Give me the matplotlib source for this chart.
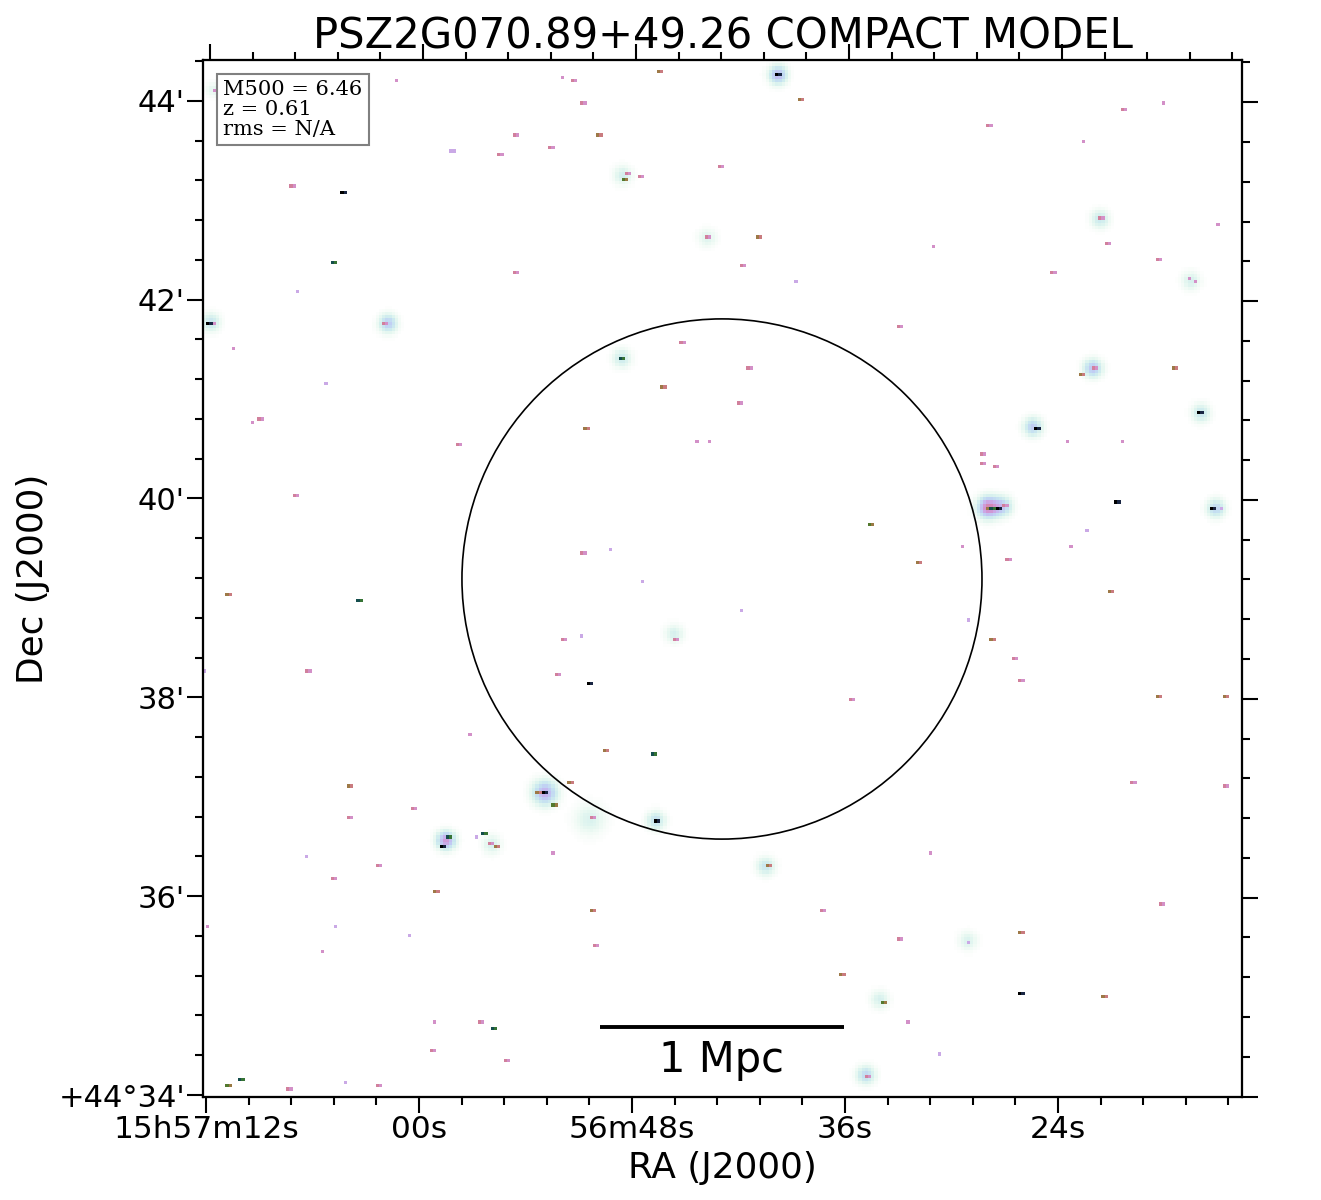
import matplotlib
matplotlib.use("Agg")
import matplotlib.pyplot as plt
from matplotlib.patches import Ellipse
import numpy as np

# Source levels (fraction of the colour stretch)
LI, PI, RO, BR, OL, DK, BK = 0.27, 0.33, 0.39, 0.50, 0.60, 0.76, 1.00

# Compact pixels: RA is seconds after 15h56m, Dec is arcmin after +44 deg
src_ra = [61.30, 71.55, 51.94, 51.32, 50.76, 46.42, 38.59, 39.83, 27.89, 17.97, 20.34, 22.59, 58.14,
          57.97, 54.65, 52.68, 49.92, 55.55, 43.10, 67.15, 64.34, 48.56, 48.23, 47.55, 15.04, 21.63,
          43.83, 40.96, 41.75, 30.99, 21.35, 18.48, 24.28, 16.56, 16.23, 54.54, 64.90, 66.82, 38.70,
          33.01, 71.83, 71.55, 70.48, 61.97, 45.18, 48.68, 65.30, 41.41, 46.37, 22.76, 21.97, 17.52,
          16.00, 25.18, 41.97, 50.65, 69.30, 69.01, 44.28, 43.61, 57.92, 23.44, 20.39, 28.23, 28.34,
          27.61, 67.04, 28.00, 27.83, 27.44, 27.04, 20.73, 15.27, 14.76, 34.54, 22.37, 23.32, 29.41,
          50.76, 49.24, 31.94, 26.93, 47.44, 70.82, 63.49, 21.18, 41.80, 28.96, 45.63, 50.87, 51.89,
          27.77, 66.37, 26.54, 52.28, 50.54, 26.20, 18.48, 14.65, 72.11, 35.77, 57.07, 49.52, 46.87,
          51.55, 63.89, 19.77, 14.54, 53.41, 52.90, 52.39, 60.34, 63.94, 50.37, 46.65, 58.48, 58.70,
          56.39, 56.68, 56.11, 55.72, 52.51, 66.37, 31.21, 64.96, 62.42, 40.45, 59.04, 18.25, 50.25,
          37.30, 71.94, 64.68, 26.20, 29.01, 33.07, 60.51, 65.35, 50.03, 36.17, 26.20, 21.52, 33.97,
          59.04, 56.51, 55.89, 32.51, 59.32, 55.15, 30.65, 34.82, 70.82, 70.14, 67.32, 64.17, 62.42]
src_dec = [44.20, 44.11, 44.24, 44.19, 43.99, 44.29, 44.01, 44.25, 43.74, 43.99, 43.91, 43.59, 43.51,
           43.50, 43.67, 43.52, 43.64, 43.45, 43.34, 43.13, 43.07, 43.21, 43.27, 43.24, 42.76, 42.82,
           42.62, 42.64, 42.34, 42.54, 42.57, 42.42, 42.29, 42.21, 42.17, 42.29, 42.36, 42.09, 42.18,
           41.72, 41.77, 41.75, 41.51, 41.76, 41.58, 41.40, 41.16, 41.31, 41.11, 41.24, 41.30, 41.31,
           40.85, 40.71, 40.95, 40.71, 40.76, 40.81, 40.59, 40.56, 40.53, 40.59, 40.59, 40.46, 40.34,
           40.32, 40.03, 39.89, 39.89, 39.89, 39.94, 39.98, 39.90, 39.89, 39.73, 39.68, 39.53, 39.51,
           39.46, 39.48, 39.37, 39.40, 39.16, 39.04, 38.98, 39.06, 38.86, 38.78, 38.57, 38.62, 38.59,
           38.58, 38.27, 38.38, 38.23, 38.12, 38.18, 38.00, 38.02, 38.28, 37.98, 37.63, 37.45, 37.43,
           37.15, 37.10, 37.15, 37.12, 37.03, 37.05, 36.93, 36.88, 36.80, 36.78, 36.76, 36.61, 36.50,
           36.63, 36.61, 36.54, 36.51, 36.45, 36.41, 36.45, 36.18, 36.30, 36.30, 36.05, 35.92, 35.85,
           35.87, 35.71, 35.69, 35.64, 35.54, 35.56, 35.60, 35.44, 35.52, 35.23, 35.01, 34.99, 34.94,
           34.72, 34.74, 34.67, 34.72, 34.43, 34.34, 34.40, 34.20, 34.10, 34.15, 34.07, 34.12, 34.10]
src_level = [PI, PI, PI, RO, RO, BR, BR, BK, RO, PI, RO, PI, LI,
             LI, RO, RO, BR, RO, RO, RO, BK, OL, RO, RO, PI, RO,
             RO, BR, RO, PI, RO, RO, RO, PI, PI, RO, DK, LI, LI,
             RO, BK, PI, PI, RO, RO, DK, LI, RO, BR, BR, RO, BR,
             BK, BK, RO, BR, PI, RO, PI, PI, RO, PI, PI, RO, RO,
             RO, RO, BR, DK, BK, RO, BK, BK, LI, OL, LI, PI, PI,
             RO, LI, BR, RO, LI, BR, DK, BR, LI, LI, RO, LI, RO,
             BR, RO, RO, RO, BK, RO, BR, BR, LI, RO, PI, BR, DK,
             BR, BR, RO, RO, BR, BK, OL, RO, RO, RO, BK, DK, BK,
             DK, LI, RO, BR, PI, LI, PI, RO, RO, BR, BR, RO, BR,
             RO, PI, LI, BR, LI, RO, LI, PI, RO, BR, BK, BR, OL,
             PI, RO, DK, PI, RO, RO, LI, RO, OL, DK, RO, LI, RO]

# Extended halos around the brighter sources
blob_ra = [39.77, 48.51, 43.77, 21.63, 16.50, 71.72, 61.75, 48.56, 22.03, 15.94, 25.41, 27.94, 27.15,
           15.10, 45.63, 52.90, 50.37, 46.65, 58.48, 55.89, 40.45, 29.07, 34.03, 34.82, 71.55]
blob_dec = [44.26, 43.25, 42.62, 42.81, 42.19, 41.77, 41.76, 41.41, 41.31, 40.86, 40.72, 39.91, 39.92,
            39.90, 38.64, 37.04, 36.77, 36.76, 36.56, 36.52, 36.30, 35.55, 34.96, 34.20, 44.11]
blob_amp = [0.25, 0.10, 0.07, 0.12, 0.09, 0.13, 0.20, 0.12, 0.22, 0.13, 0.20, 0.36, 0.20,
            0.18, 0.09, 0.27, 0.08, 0.15, 0.31, 0.09, 0.13, 0.08, 0.09, 0.17, 0.06]
blob_sigma = [0.06, 0.06, 0.06, 0.06, 0.06, 0.06, 0.06, 0.06, 0.06, 0.06, 0.06, 0.07, 0.065,
              0.06, 0.06, 0.08, 0.10, 0.06, 0.06, 0.06, 0.06, 0.06, 0.06, 0.06, 0.05]

ra_ticks = [72, 60, 48, 36, 24]
ra_labels = ["15h57m12s", "00s", "56m48s", "36s", "24s"]
dec_ticks = [34, 36, 38, 40, 42, 44]
dec_labels = ["+44\u00b034'", "36'", "38'", "40'", "42'", "44'"]
info_text = "M500 = 6.46\nz = 0.61\nrms = N/A"
center_ra, center_dec = 42.93, 39.19
r500_ra, r500_dec = 14.65, 2.616
mpc_ra = 13.8

ra_lim = (72.17, 13.63)
dec_lim = (33.98, 44.41)
n_cells = 325

# Build the model map
ra_edges = np.linspace(ra_lim[0], ra_lim[1], n_cells + 1)
dec_edges = np.linspace(dec_lim[0], dec_lim[1], n_cells + 1)
ra_c = 0.5 * (ra_edges[1:] + ra_edges[:-1])
dec_c = 0.5 * (dec_edges[1:] + dec_edges[:-1])
grid_ra, grid_dec = np.meshgrid(ra_c, dec_c)
model = np.zeros((n_cells, n_cells))
for ra, dec, amp, sig in zip(blob_ra, blob_dec, blob_amp, blob_sigma):
    dx = (grid_ra - ra) * 10.7 / 60.0  # seconds of RA to arcmin at this Dec
    dy = grid_dec - dec
    model += amp * np.exp(-(dx**2 + dy**2) / (2 * sig**2))
for ra, dec, level in zip(src_ra, src_dec, src_level):
    col = np.argmin(np.abs(ra_c - ra))
    row = np.argmin(np.abs(dec_c - dec))
    model[row, col] = max(model[row, col], level)
    # brighter sources spill into the next cell
    if level >= RO and col + 1 < n_cells:
        model[row, col + 1] = max(model[row, col + 1], 0.85 * level)

fig = plt.figure(figsize=(13.21, 12), dpi=100)
ax = fig.add_axes([203 / 1321, 103 / 1200, 1039 / 1321, 1037 / 1200])
ax.imshow(model, origin="lower", cmap="cubehelix_r", vmin=0, vmax=1, interpolation="nearest",
          extent=[ra_lim[0], ra_lim[1], dec_lim[0], dec_lim[1]], aspect="auto")
ax.set_xlim(ra_lim)
ax.set_ylim(dec_lim)

ax.add_patch(Ellipse((center_ra, center_dec), 2 * r500_ra, 2 * r500_dec, fill=False, ec="k", lw=1.2))
ax.plot([center_ra + mpc_ra / 2, center_ra - mpc_ra / 2], [34.68, 34.68], color="k", lw=2.8, solid_capstyle="butt")
ax.text(center_ra, 34.35, "1 Mpc", ha="center", va="center", fontsize=30)
ax.text(0.0195, 0.9805, info_text, transform=ax.transAxes, ha="left", va="top", family="DejaVu Serif",
        fontsize=15.1, linespacing=1.05, bbox=dict(boxstyle="square,pad=0.3", fc="white", ec="gray", lw=1.5))

# Main axes ticks (bottom, left)
ax.set_xticks(ra_ticks)
ax.set_xticklabels(ra_labels)
ax.set_xticks(np.arange(72, 13.6, -2.4), minor=True)
ax.set_yticks(dec_ticks)
ax.set_yticklabels(dec_labels)
ax.set_yticks(np.arange(34, 44.5, 0.4), minor=True)
ax.tick_params(which="major", length=11.5, width=1.5, pad=1.5)
ax.tick_params(axis="x", which="major", labelsize=22.5)
ax.tick_params(axis="y", which="major", labelsize=22)
ax.tick_params(which="minor", length=6, width=1.5)
ax.set_xlabel("RA (J2000)", fontsize=25.8, labelpad=5)
ax.set_ylabel("Dec (J2000)", fontsize=25.8, labelpad=6)
ax.set_title("PSZ2G070.89+49.26 COMPACT MODEL", fontsize=30.1, pad=8)

# The sky grid is slightly rotated so the opposite sides are offset
top = ax.twiny()
top.set_xlim(ra_lim[0] + 0.225, ra_lim[1] + 0.225)
top.set_xticks(ra_ticks)
top.set_xticklabels([])
top.set_xticks(np.arange(72, 13.6, -2.4), minor=True)
top.tick_params(which="major", length=11.5, width=1.5)
top.tick_params(which="minor", length=6, width=1.5)

right = ax.twinx()
right.set_ylim(dec_lim[0] + 0.015, dec_lim[1] + 0.015)
right.set_yticks(dec_ticks)
right.set_yticklabels([])
right.set_yticks(np.arange(34, 44.5, 0.4), minor=True)
right.tick_params(which="major", length=11.5, width=1.5)
right.tick_params(which="minor", length=6, width=1.5)

for a in [ax, top, right]:
    for s in a.spines.values():
        s.set_linewidth(1.5)

fig.savefig("out.png", dpi=100)
